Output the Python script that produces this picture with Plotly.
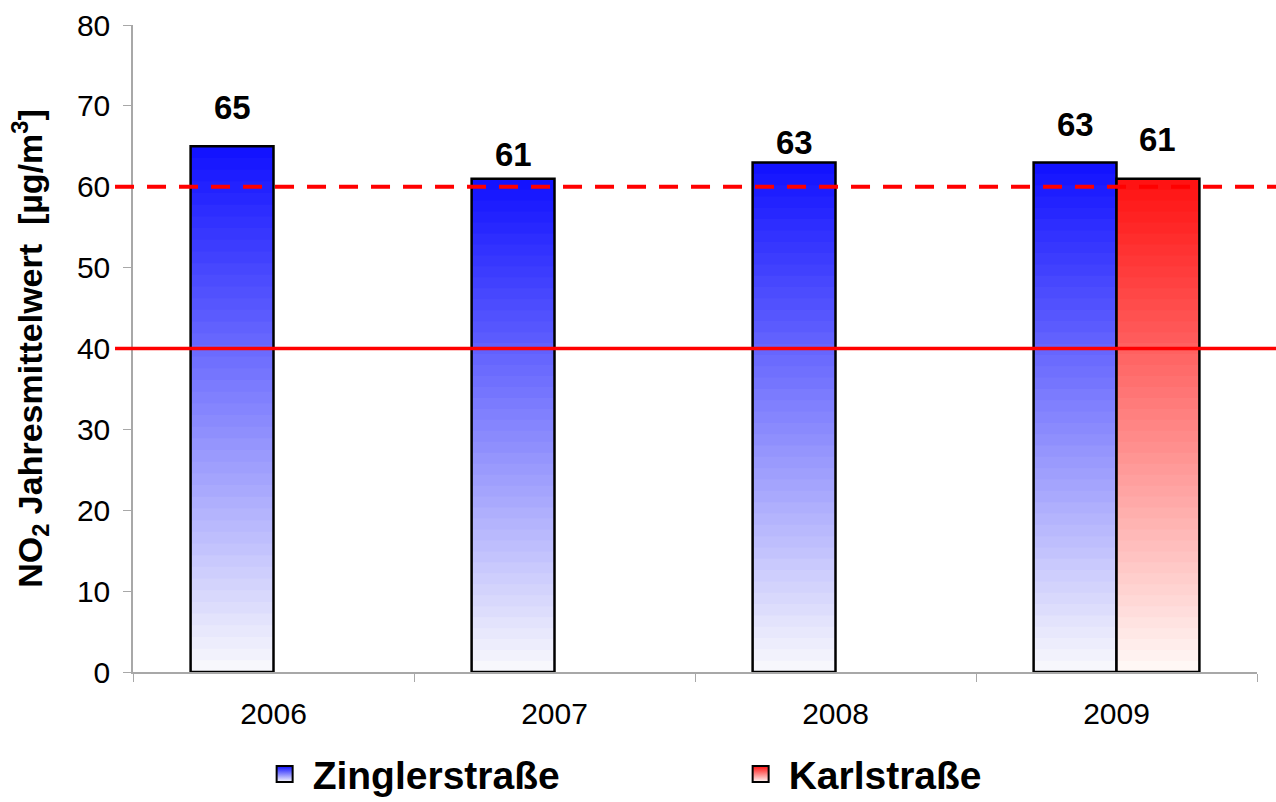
import plotly.graph_objects as go

years = ["2006", "2007", "2008", "2009"]
zingler = [65, 61, 63, 63]
karl = [None, None, None, 61]
limit_annual = 40
limit_dashed = 60
series_names = ["Zinglerstraße", "Karlstraße"]

FONT = "Arial, 'Liberation Sans', sans-serif"
N = 45
# top / bottom colours of each gradient
grad = {
    "Zinglerstraße": ((16, 16, 255), (250, 250, 252)),
    "Karlstraße": ((255, 16, 16), (255, 250, 248)),
}
# pixel offset of each value label above its bar top (label centre)
label_yshift = {"Zinglerstraße": [39, 24, 20, 38], "Karlstraße": [None, None, None, 39]}

def mix(c1, c2, t):
    return "rgb(%d,%d,%d)" % tuple(round(a + (b - a) * t) for a, b in zip(c1, c2))

fig = go.Figure()
for name, vals in zip(series_names, [zingler, karl]):
    top, bot = grad[name]
    for k in range(N):
        t = (k + 0.5) / N  # 0 bottom -> 1 top
        over = 1.0 if k == N - 1 else 1.6  # overlap segments to hide seams
        fig.add_trace(go.Bar(
            x=years, y=[None if v is None else v / N * over for v in vals],
            base=[0 if v is None else v * k / N for v in vals],
            offsetgroup=name, marker=dict(color=mix(bot, top, t), line=dict(width=0)),
            showlegend=False, hoverinfo="skip"))
    fig.add_trace(go.Bar(
        x=years, y=vals, offsetgroup=name,
        marker=dict(color="rgba(0,0,0,0)", line=dict(color="black", width=2.5)),
        showlegend=False, hoverinfo="skip"))
    # legend entry
    fig.add_trace(go.Scatter(
        x=[years[0]], y=[None], mode="markers", name=name,
        marker=dict(symbol="square", size=22, color=mix(top, top, 0),
                    gradient=dict(type="vertical", color=mix(bot, bot, 0)),
                    line=dict(color="black", width=2))))

# data labels
bar_half = 41
for name, vals, sgn in zip(series_names, [zingler, karl], [-1, 1]):
    for i, v in enumerate(vals):
        if v is None:
            continue
        fig.add_annotation(x=i, y=v, xref="x", yref="y", text="<b>%d</b>" % v,
                           showarrow=False, xanchor="center", yanchor="middle",
                           xshift=sgn * bar_half, yshift=label_yshift[name][i],
                           font=dict(family=FONT, size=33, color="black"))

fig.add_shape(type="line", xref="paper", yref="y", x0=-0.016, x1=1.02,
              y0=limit_annual, y1=limit_annual, line=dict(color="#ff0000", width=3.5))
fig.add_shape(type="line", xref="paper", yref="y", x0=-0.016, x1=1.02,
              y0=limit_dashed, y1=limit_dashed,
              line=dict(color="#ff0000", width=4, dash="19px,13px"))

fig.update_layout(
    width=1276, height=802,
    margin=dict(l=133, r=19, t=25, b=130, autoexpand=False),
    paper_bgcolor="white", plot_bgcolor="white",
    barmode="group", bargap=0.41, bargroupgap=0,
    font=dict(family=FONT, color="black"),
    showlegend=True,
    legend=dict(orientation="h", x=0.110, xanchor="left", y=-0.158, yanchor="middle",
                font=dict(family=FONT, size=39, color="black", weight="bold"),
                itemwidth=46, entrywidth=415, traceorder="normal"),
    xaxis=dict(type="category", categoryorder="array", categoryarray=years,
               range=[-0.5, len(years) - 0.5],
               tickson="boundaries", ticks="outside", ticklen=8,
               tickcolor="#a8a8a8", showline=True, linecolor="#a8a8a8", linewidth=1.5,
               tickfont=dict(size=30), showgrid=False, ticklabelstandoff=14),
    yaxis=dict(range=[0, 80], dtick=10, ticks="outside", ticklen=8,
               tickcolor="#a8a8a8", showline=True, linecolor="#a8a8a8", linewidth=1.5,
               tickfont=dict(size=30), showgrid=False, zeroline=False,
               ticklabelstandoff=7,
               title=dict(text="<b>NO<sub>2</sub> Jahresmittelwert  [µg/m<sup>3</sup>]</b>",
                          font=dict(size=34), standoff=24)),
)

fig.write_html("out.html", config={"displayModeBar": False},
               post_script="document.body.style.margin='0px';")
